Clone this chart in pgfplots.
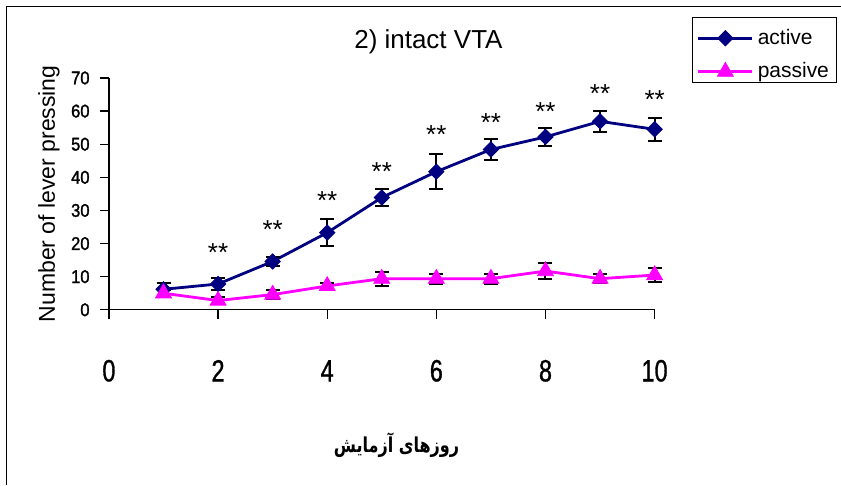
\documentclass[border=0pt]{standalone}
\usepackage{fontspec}
\setmainfont{Liberation Sans}
\newfontfamily\numfont[FakeStretch=0.76,FakeBold=1]{Liberation Sans}
\newfontfamily\ynumfont[FakeStretch=0.9,FakeBold=1.5]{Liberation Sans}
\newfontfamily\arabicfont[Script=Arabic,FakeStretch=0.78]{DejaVu Sans}
\TeXXeTstate=1
\usepackage{pgfplots}
\pgfplotsset{compat=1.18}
\definecolor{activeblue}{RGB}{0,0,128}
\definecolor{passivepink}{RGB}{255,0,255}

% lever presses per session: mean and error
\pgfplotstableread{
day mean err
1  6.2  2.0
2  7.8  1.7
3  14.6 1.3
4  23.3 4.0
5  33.9 2.5
6  41.7 5.2
7  48.4 3.2
8  52.2 2.8
9  56.9 3.2
10 54.5 3.4
}\activedata

\pgfplotstableread{
day mean err
1  5.0  1.0
2  2.8  1.0
3  4.6  1.3
4  7.2  0.8
5  9.4  2.1
6  9.4  1.5
7  9.4  1.5
8  11.7 2.5
9  9.4  1.3
10 10.5 2.2
}\passivedata

\tikzset{star/.style={font=\fontsize{13}{15}\selectfont, anchor=center, yshift=-2.8pt}}

\begin{document}
\begin{tikzpicture}
\begin{axis}[
  scale only axis, width=273pt, height=116pt,
  xmin=0, xmax=10, ymin=0, ymax=70,
  axis lines=left,
  axis line style={-, black, line width=0.6pt},
  xtick={0,2,...,10}, ytick={0,10,...,70},
  tick align=outside, major tick length=4.5pt,
  tick style={black, line width=0.6pt},
  clip=false,
  /pgf/number format/assume math mode=true,
  xticklabel style={font=\numfont\fontsize{15.4}{16}\selectfont, anchor=center, inner sep=0pt, yshift=-26pt},
  yticklabel style={font=\ynumfont\fontsize{9.2}{10}\selectfont, anchor=east, inner sep=0pt, xshift=-5pt},
  title={2) intact VTA},
  every axis title shift/.style={},
  every axis title/.style={at={(axis description cs:0.5855,1.156)}, anchor=center, font=\fontsize{13}{15}\selectfont},
  ylabel={Number of lever pressing},
  every axis y label/.style={at={(axis description cs:-0.1099,0.5)}, rotate=90, anchor=center, font=\fontsize{11.5}{13}\selectfont},
  xlabel={\arabicfont\bfseries\beginR روزهای آزمایش\endR},
  every axis x label/.style={at={(axis description cs:0.527,-0.582)}, anchor=center, font=\fontsize{10.3}{12}\selectfont},
  legend style={at={(axis description cs:1.0696,1.2469)}, anchor=north west,
    draw=none, fill=none, font=\fontsize{10.5}{12}\selectfont,
    inner xsep=2pt, inner ysep=2pt, row sep=3.65pt,
    /tikz/every even column/.style={column sep=2pt}},
  legend cell align=left,
  legend image code/.code={
    \draw[mark repeat=2, mark phase=2, #1] plot coordinates {(0pt,0pt) (13.5pt,0pt) (27pt,0pt)};
  },
  error bars/y dir=both, error bars/y explicit,
  error bars/error bar style={line width=1pt, black},
  error bars/error mark options={rotate=90, mark size=3.5pt, line width=1pt, black},
]
\addplot[activeblue, line width=1.4pt, mark=square*, mark size=2.7pt,
  mark options={rotate=45, solid, fill=activeblue, draw=activeblue, line width=0.4pt}]
  table[x=day, y=mean, y error=err] {\activedata};
\addlegendentry{active}
\addplot[passivepink, line width=1.4pt, mark=triangle*, mark size=4.6pt,
  mark options={solid, fill=passivepink, draw=passivepink, line width=0.4pt}]
  table[x=day, y=mean, y error=err] {\passivedata};
\addlegendentry{passive}

% significance markers above the active series
\node[star] at (axis cs:2,18.9) {**};
\node[star] at (axis cs:3,25.9) {**};
\node[star] at (axis cs:4,34.7) {**};
\node[star] at (axis cs:5,43.5) {**};
\node[star] at (axis cs:6,54.5) {**};
\node[star] at (axis cs:7,58.1) {**};
\node[star] at (axis cs:8,61.6) {**};
\node[star] at (axis cs:9,66.9) {**};
\node[star] at (axis cs:10,65.1) {**};

% legend frame
\draw[line width=0.5pt, black] (axis description cs:1.0696,0.9784) rectangle (axis description cs:1.3333,1.2629);

% outer frame (left and top edges) and page extent
\draw[line width=0.5pt, black] (axis description cs:-0.18773,-0.75431) -- (axis description cs:-0.18773,1.30819) -- (axis description cs:1.34066,1.30819);
\path (axis description cs:-0.19963,-0.75431) rectangle (axis description cs:1.34066,1.33621);
\end{axis}
\end{tikzpicture}
\end{document}
